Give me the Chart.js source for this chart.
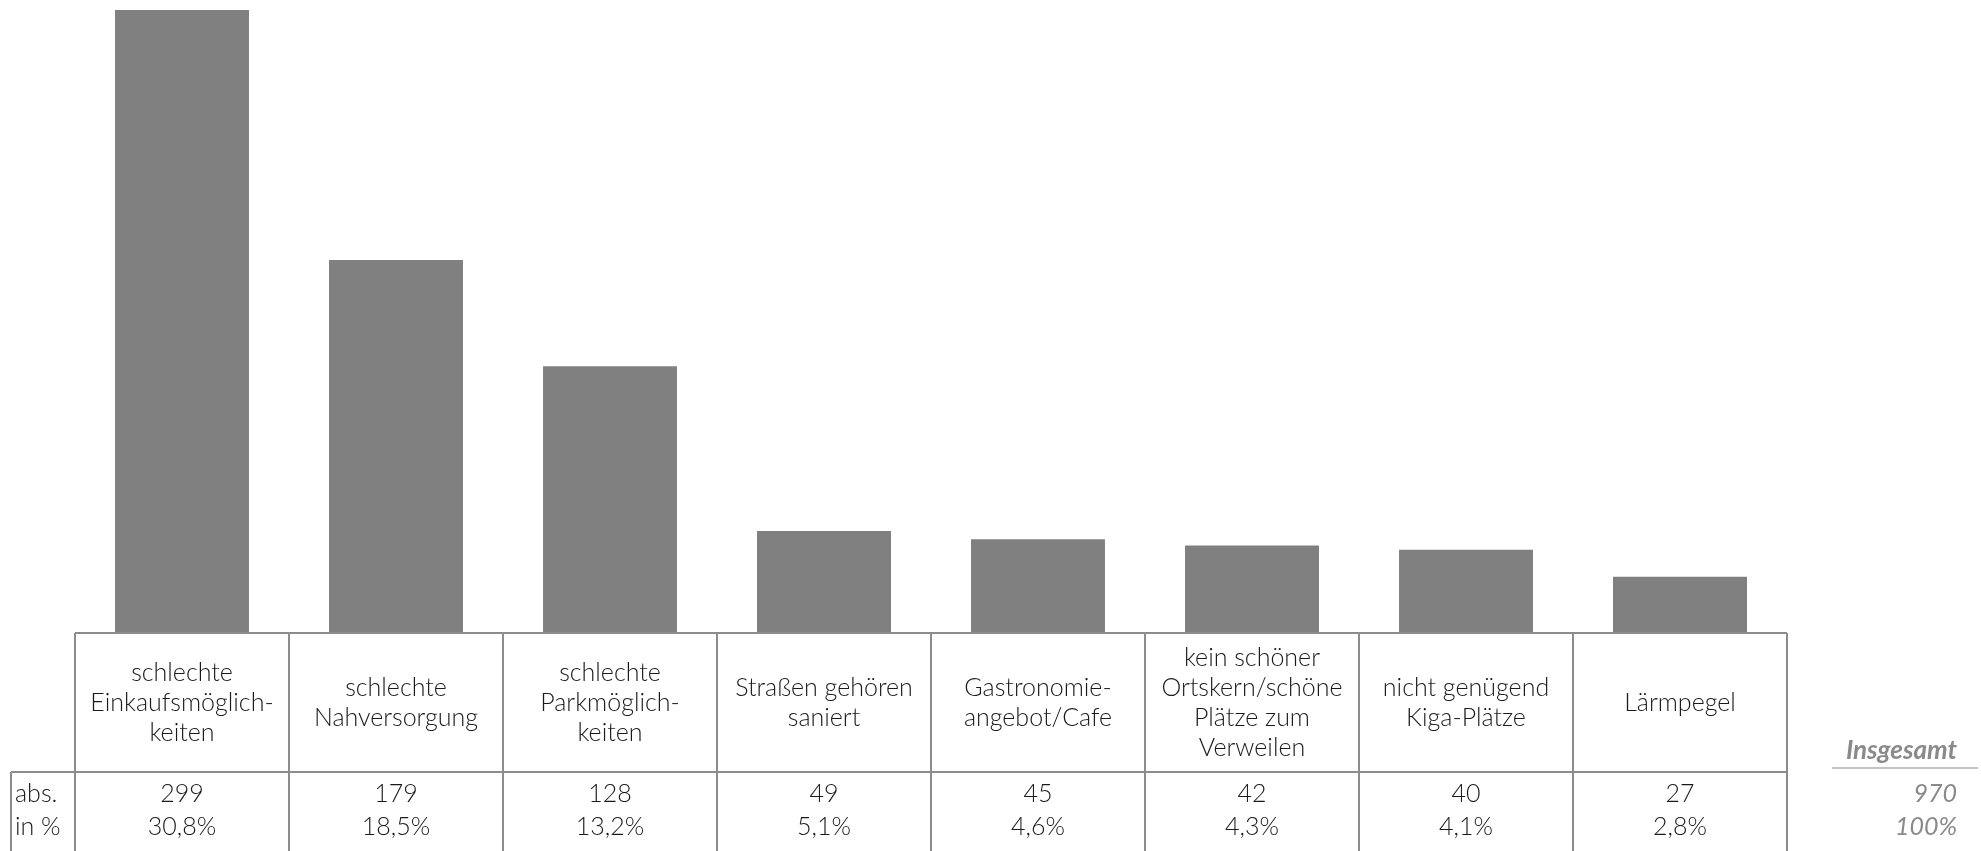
<!DOCTYPE html>
<html>
<head>
<meta charset="utf-8">
<script src="https://cdn.jsdelivr.net/npm/chart.js@4/dist/chart.umd.min.js"></script>
<style>
  html, body { margin: 0; padding: 0; background: #fff; }
  #wrap { width: 1981px; height: 851px; position: relative; }
</style>
</head>
<body>
<div id="wrap"><canvas id="c"></canvas></div>
<script>
// ---- data ----
const categories = [
  ["schlechte", "Einkaufsmöglich-", "keiten"],
  ["schlechte", "Nahversorgung"],
  ["schlechte", "Parkmöglich-", "keiten"],
  ["Straßen gehören", "saniert"],
  ["Gastronomie-", "angebot/Cafe"],
  ["kein schöner", "Ortskern/schöne", "Plätze zum", "Verweilen"],
  ["nicht genügend", "Kiga-Plätze"],
  ["Lärmpegel"]
];
const absValues = [299, 179, 128, 49, 45, 42, 40, 27];
const pctLabels = ["30,8%", "18,5%", "13,2%", "5,1%", "4,6%", "4,3%", "4,1%", "2,8%"];
const rowLabels = ["abs.", "in %"];
const totalTitle = "Insgesamt";
const totalAbs = "970";
const totalPct = "100%";

const FONT = "Lato, 'Noto Sans', sans-serif";
const LINE = "#8c8c8c";

const tablePlugin = {
  id: "tablePlugin",
  afterDraw(chart) {
    const ctx = chart.ctx;
    const x = chart.scales.x;
    const area = chart.chartArea;
    const n = categories.length;
    const colW = (x.right - x.left) / n;
    const top = area.bottom;
    const sep = top + 139;
    const bottom = chart.height;
    const r1 = sep + 22;
    const r2 = sep + 55;
    ctx.save();
    ctx.strokeStyle = LINE;
    ctx.lineWidth = 2;
    ctx.beginPath();
    ctx.moveTo(x.left, top); ctx.lineTo(x.right, top);
    ctx.moveTo(11, sep); ctx.lineTo(x.right, sep);
    for (let i = 0; i <= n; i++) {
      const px = x.left + i * colW;
      ctx.moveTo(px, top); ctx.lineTo(px, bottom);
    }
    ctx.moveTo(11, sep); ctx.lineTo(11, bottom);
    ctx.stroke();

    ctx.fillStyle = "#1a1a1a";
    ctx.font = "300 25px " + FONT;
    ctx.textAlign = "center";
    ctx.textBaseline = "middle";
    const lh = 30;
    categories.forEach((lines, i) => {
      const cx = x.getPixelForValue(i);
      const cy = (top + sep) / 2;
      const start = cy - (lines.length - 1) * lh / 2;
      lines.forEach((t, j) => ctx.fillText(t, cx, start + j * lh));
      ctx.fillText(String(absValues[i]), cx, r1);
      ctx.fillText(pctLabels[i], cx, r2);
    });
    ctx.textAlign = "left";
    ctx.fillText(rowLabels[0], 15, r1);
    ctx.fillText(rowLabels[1], 15, r2);

    ctx.fillStyle = "#8a8a8a";
    ctx.textAlign = "right";
    ctx.font = "italic bold 26px " + FONT;
    ctx.fillText(totalTitle, 1957, 751);
    ctx.font = "italic 25px " + FONT;
    ctx.fillText(totalAbs, 1957, r1);
    ctx.fillText(totalPct, 1957, r2);
    ctx.strokeStyle = "#b0b0b0";
    ctx.lineWidth = 1.5;
    ctx.beginPath();
    ctx.moveTo(1832, 768); ctx.lineTo(1978, 768);
    ctx.stroke();
    ctx.restore();
  }
};

new Chart(document.getElementById("c"), {
  type: "bar",
  data: {
    labels: categories.map(l => l.join(" ")),
    datasets: [{
      data: absValues,
      backgroundColor: "#808080",
      borderWidth: 0,
      categoryPercentage: 1,
      barPercentage: 0.626
    }]
  },
  options: {
    responsive: true,
    maintainAspectRatio: false,
    animation: false,
    devicePixelRatio: 1,
    layout: { padding: { left: 75, right: 194, top: 10, bottom: 218 } },
    plugins: { legend: { display: false }, tooltip: { enabled: false } },
    scales: {
      x: { display: false, offset: true },
      y: { display: false, min: 0, max: Math.max(...absValues) }
    }
  },
  plugins: [tablePlugin]
});
</script>
</body>
</html>
